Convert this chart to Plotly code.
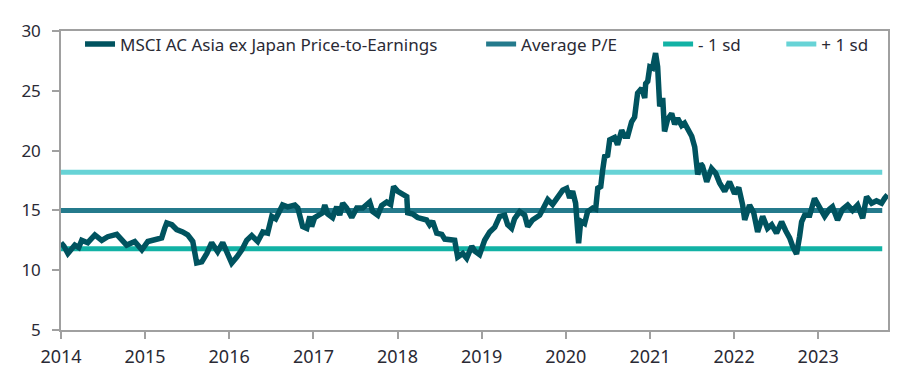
import plotly.graph_objects as go

dates = [
    "2014-01-01","2014-01-14","2014-01-31","2014-02-17","2014-03-02","2014-03-19","2014-04-01","2014-04-27",
    "2014-05-28","2014-06-27","2014-07-23","2014-08-31","2014-09-22","2014-10-13","2014-11-17","2014-12-18",
    "2015-01-13","2015-02-12","2015-03-14","2015-03-27","2015-04-05","2015-04-27","2015-05-18","2015-06-13",
    "2015-07-05","2015-07-27","2015-08-13","2015-09-04","2015-09-26","2015-10-17","2015-11-12","2015-12-04",
    "2015-12-26","2016-01-12","2016-02-03","2016-02-25","2016-03-17","2016-04-08","2016-05-04","2016-05-26",
    "2016-06-16","2016-07-04","2016-07-21","2016-08-07","2016-08-20","2016-09-11","2016-10-12","2016-10-25",
    "2016-11-15","2016-12-03","2016-12-16","2016-12-24","2017-01-06","2017-02-10","2017-02-19","2017-03-04",
    "2017-03-25","2017-04-12","2017-04-25","2017-05-08","2017-05-25","2017-06-16","2017-07-08","2017-08-03",
    "2017-09-02","2017-09-15","2017-10-07","2017-10-24","2017-11-15","2017-12-02","2017-12-15","2018-01-02",
    "2018-02-10","2018-02-14","2018-03-08","2018-03-29","2018-04-16","2018-05-07","2018-05-20","2018-06-02",
    "2018-06-20","2018-07-12","2018-07-25","2018-08-15","2018-09-06","2018-09-19","2018-10-11","2018-10-28",
    "2018-11-19","2018-12-02","2018-12-23","2019-01-14","2019-02-05","2019-02-27","2019-03-20","2019-04-11",
    "2019-04-24","2019-05-11","2019-05-24","2019-06-15","2019-07-07","2019-07-20","2019-08-10","2019-09-10",
    "2019-10-02","2019-10-15","2019-11-05","2019-11-27","2019-12-19","2020-01-05","2020-01-18","2020-01-31",
    "2020-02-13","2020-02-26","2020-03-06","2020-03-23","2020-04-05","2020-04-27","2020-05-10","2020-05-19",
    "2020-06-01","2020-06-09","2020-06-18","2020-07-01","2020-07-10","2020-07-31","2020-08-13","2020-08-31",
    "2020-09-13","2020-09-26","2020-10-13","2020-10-26","2020-11-08","2020-11-26","2020-12-09","2020-12-13",
    "2020-12-22","2020-12-31","2021-01-12","2021-01-25","2021-02-03","2021-02-12","2021-02-25","2021-03-05",
    "2021-03-18","2021-04-05","2021-04-18","2021-05-01","2021-05-18","2021-05-31","2021-06-18","2021-07-01",
    "2021-07-14","2021-07-22","2021-07-27","2021-08-09","2021-08-17","2021-09-04","2021-09-25","2021-10-13",
    "2021-10-30","2021-11-21","2021-12-12","2022-01-03","2022-01-21","2022-02-07","2022-02-16","2022-03-09",
    "2022-03-27","2022-04-13","2022-05-05","2022-05-26","2022-06-13","2022-07-04","2022-07-26","2022-08-13",
    "2022-08-30","2022-09-12","2022-09-29","2022-10-12","2022-10-21","2022-11-03","2022-11-25","2022-12-16",
    "2023-01-07","2023-01-29","2023-02-19","2023-03-04","2023-03-26","2023-04-17","2023-05-09","2023-05-30",
    "2023-06-21","2023-07-13","2023-07-30","2023-08-21","2023-09-11","2023-10-03","2023-10-16","2023-10-29",
]
pe = [
    12.3, 12.0, 11.4, 11.8, 12.1, 11.9, 12.5, 12.3,
    12.95, 12.5, 12.8, 13.0, 12.5, 12.1, 12.4, 11.7,
    12.4, 12.5, 12.7, 13.5, 13.95, 13.8, 13.4, 13.2,
    12.95, 12.4, 10.6, 10.7, 11.4, 12.3, 11.55, 12.3,
    11.3, 10.6, 11.1, 11.7, 12.5, 12.9, 12.4, 13.2,
    13.1, 14.5, 14.3, 15.0, 15.45, 15.3, 15.45, 15.2,
    13.65, 13.5, 14.5, 13.65, 14.4, 14.8, 15.45, 14.7,
    14.4, 15.3, 14.6, 15.6, 15.2, 14.4, 15.2, 15.2,
    15.7, 14.9, 14.6, 15.4, 15.7, 15.5, 17.0, 16.6,
    16.15, 14.8, 14.7, 14.4, 14.3, 14.2, 13.8, 14.1,
    13.1, 13.0, 12.6, 12.5, 12.5, 11.1, 11.4, 11.0,
    12.0, 11.6, 11.3, 12.5, 13.2, 13.6, 14.5, 14.6,
    13.8, 13.5, 14.3, 14.9, 14.6, 13.65, 14.2, 14.6,
    15.6, 15.9, 15.5, 16.05, 16.7, 16.85, 16.05, 16.6,
    15.6, 12.25, 14.1, 13.9, 14.9, 15.2, 15.1, 16.85,
    17.0, 18.3, 19.5, 19.6, 20.9, 21.1, 20.5, 21.7,
    21.2, 21.2, 22.4, 22.8, 24.8, 25.2, 24.4, 25.6,
    25.8, 27.0, 26.9, 28.15, 27.0, 23.7, 24.4, 21.6,
    22.6, 23.1, 22.2, 22.7, 22.1, 22.3, 21.6, 21.2,
    20.3, 19.2, 18.0, 18.9, 18.7, 17.4, 18.5, 18.1,
    17.3, 16.6, 17.4, 16.4, 16.9, 15.45, 14.2, 15.45,
    14.8, 13.2, 14.5, 13.5, 13.8, 13.1, 14.05, 13.3,
    12.7, 12.0, 11.35, 12.8, 14.05, 14.6, 14.6, 16.0,
    15.2, 14.5, 15.1, 15.3, 14.2, 15.1, 15.45, 15.0,
    15.45, 14.35, 16.15, 15.6, 15.8, 15.6, 16.0, 16.3,
]

band_dates = ["2014-01-01", "2023-10-06"]
avg_pe = 15.0
minus_sd = 11.8
plus_sd = 18.2

names = ["MSCI AC Asia ex Japan Price-to-Earnings", "Average P/E", "- 1 sd", "+ 1 sd"]
colors = ["#00535F", "#247A8C", "#12B2A5", "#67D3D6"]
year_ticks = [f"{y}-01-01" for y in range(2014, 2024)]
year_labels = [str(y) for y in range(2014, 2024)]

fig = go.Figure()
fig.add_trace(go.Scatter(x=band_dates, y=[avg_pe, avg_pe], mode="lines", name=names[1],
                         line=dict(color=colors[1], width=5), legend="legend2", showlegend=True))
fig.add_trace(go.Scatter(x=band_dates, y=[minus_sd, minus_sd], mode="lines", name=names[2],
                         line=dict(color=colors[2], width=5), legend="legend3", showlegend=True))
fig.add_trace(go.Scatter(x=band_dates, y=[plus_sd, plus_sd], mode="lines", name=names[3],
                         line=dict(color=colors[3], width=5), legend="legend4", showlegend=True))
fig.add_trace(go.Scatter(x=dates, y=pe, mode="lines", name=names[0],
                         line=dict(color=colors[0], width=5.5), legend="legend", showlegend=True))

txt = "#2A2A35"
legfont = dict(family="Noto Sans", size=17, color=txt)
common = dict(bgcolor="rgba(0,0,0,0)", font=legfont, yanchor="middle", xanchor="left",
              y=0.955, itemwidth=30, tracegroupgap=0)
fig.update_layout(
    width=907, height=368,
    margin=dict(l=53, r=27, t=23, b=46, autoexpand=False),
    paper_bgcolor="white", plot_bgcolor="white",
    showlegend=True,
    legend=dict(x=0.023, **common),
    legend2=dict(x=0.508, **common),
    legend3=dict(x=0.722, **common),
    legend4=dict(x=0.871, **common),
    xaxis=dict(type="date", range=["2014-01-01", "2023-10-31"],
               tickvals=year_ticks, ticktext=year_labels,
               ticks="outside", ticklen=7, tickcolor="#A0A0A0", tickwidth=1.5,
               showline=True, linecolor="#A0A0A0", linewidth=1.5, mirror=True,
               showgrid=False, zeroline=False, ticklabelstandoff=3, automargin=False,
               tickfont=dict(family="Noto Sans", size=18, color=txt)),
    yaxis=dict(range=[5, 30], tickvals=[5, 10, 15, 20, 25, 30],
               ticks="outside", ticklen=7, tickcolor="#A0A0A0", tickwidth=1.5,
               showline=True, linecolor="#A0A0A0", linewidth=1.5, mirror=True,
               showgrid=False, zeroline=False, ticklabelstandoff=8, automargin=False,
               tickfont=dict(family="Noto Sans", size=17, color=txt)),
)

fig.write_html("out.html")
